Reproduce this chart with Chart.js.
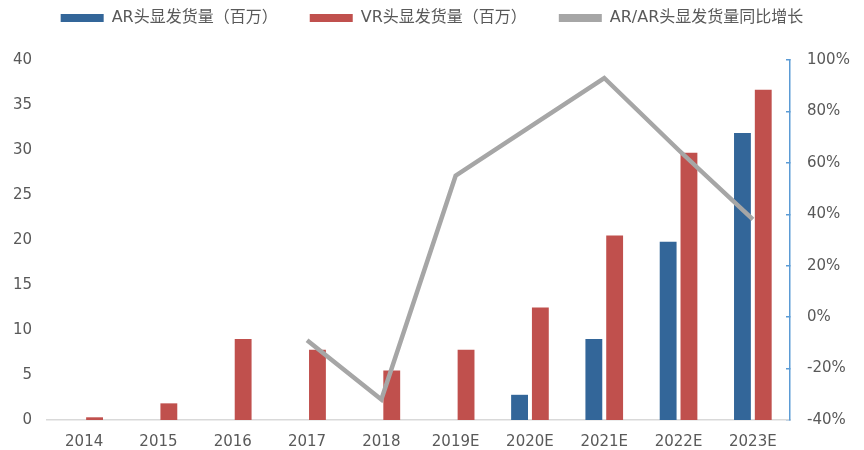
<!DOCTYPE html>
<html>
<head>
<meta charset="utf-8">
<script src="https://cdn.jsdelivr.net/npm/chart.js@4.4.1/dist/chart.umd.min.js"></script>
<style>
  html, body { margin: 0; padding: 0; background: #fff; }
</style>
</head>
<body>
<canvas id="myChart" width="864" height="450"></canvas>
<script>
const grey = "#595959";
const fonte = "'DejaVu Sans', 'Noto Sans CJK SC', sans-serif";
let labelsX = ["2014", "2015", "2016", "2017", "2018", "2019E", "2020E", "2021E", "2022E", "2023E"];
let dataAR = [null, null, null, null, null, null, 2.8, 9.0, 19.8, 31.9];
let dataVR = [0.3, 1.85, 9.0, 7.8, 5.5, 7.8, 12.5, 20.5, 29.7, 36.7];
let dataCrescimento = [null, null, null, -9, -32, 55, 74, 93, 65, 38];
let legendPadding = 32;

// espaco extra entre a legenda e o grafico
const legendGap = {
  id: "legendGap",
  beforeInit(chart) {
    const fit = chart.legend.fit;
    chart.legend.fit = function () {
      fit.call(this);
      this.height += 24;
    };
  },
};

const chart = new Chart(document.getElementById("myChart"), {
  type: "bar",
  data: {
    labels: labelsX,
    datasets: [
      {
        data: dataAR,
        label: "AR头显发货量（百万）",
        backgroundColor: "#336699",
        yAxisID: "y",
        order: 1,
        categoryPercentage: 0.56,
        barPercentage: 0.81,
      },
      {
        data: dataVR,
        label: "VR头显发货量（百万）",
        backgroundColor: "#C0504D",
        yAxisID: "y",
        order: 1,
        categoryPercentage: 0.56,
        barPercentage: 0.81,
      },
      {
        type: "line",
        data: dataCrescimento,
        label: "AR/AR头显发货量同比增长",
        borderColor: "#A6A6A6",
        backgroundColor: "#A6A6A6",
        borderWidth: 4.5,
        pointRadius: 0,
        tension: 0,
        fill: false,
        yAxisID: "y2",
        order: 0,
      },
    ],
  },
  options: {
    responsive: false,
    animation: false,
    layout: {
      padding: { top: 10 - legendPadding, left: 0, right: 0, bottom: 0 },
    },
    plugins: {
      tooltip: { enabled: false },
      legend: {
        display: true,
        position: "top",
        labels: {
          color: grey,
          boxWidth: 43,
          boxHeight: 8,
          padding: legendPadding,
          font: { size: 16, family: fonte },
          sort: (a, b) => a.datasetIndex - b.datasetIndex,
          generateLabels(chart) {
            const items = Chart.defaults.plugins.legend.labels.generateLabels(chart);
            items.forEach((it) => { it.lineWidth = 0; });
            return items;
          },
        },
      },
    },
    scales: {
      x: {
        grid: { display: false, drawTicks: false },
        border: { display: true, color: "#D9D9D9", width: 1.5 },
        ticks: {
          color: grey,
          padding: 13,
          font: { size: 15, family: fonte },
          maxRotation: 0,
          autoSkip: false,
        },
        afterFit(scale) { scale.height = 29; },
      },
      y: {
        type: "linear",
        position: "left",
        min: 0,
        max: 40,
        grid: { display: false, drawTicks: false },
        border: { display: false },
        ticks: {
          stepSize: 5,
          color: grey,
          padding: 15,
          font: { size: 15, family: fonte },
        },
        afterFit(scale) { scale.width = 47; },
      },
      y2: {
        type: "linear",
        position: "right",
        min: -40,
        max: 100,
        grid: {
          display: true,
          drawOnChartArea: false,
          drawTicks: true,
          tickLength: -4,
          color: "#5B9BD5",
          lineWidth: 1.5,
        },
        border: { display: true, color: "#5B9BD5", width: 1.5 },
        ticks: {
          stepSize: 20,
          color: grey,
          padding: 21,
          font: { size: 15, family: fonte },
          callback: (v) => v + "%",
        },
        afterFit(scale) { scale.width = 74; },
      },
    },
  },
  plugins: [legendGap],
});
</script>
</body>
</html>
